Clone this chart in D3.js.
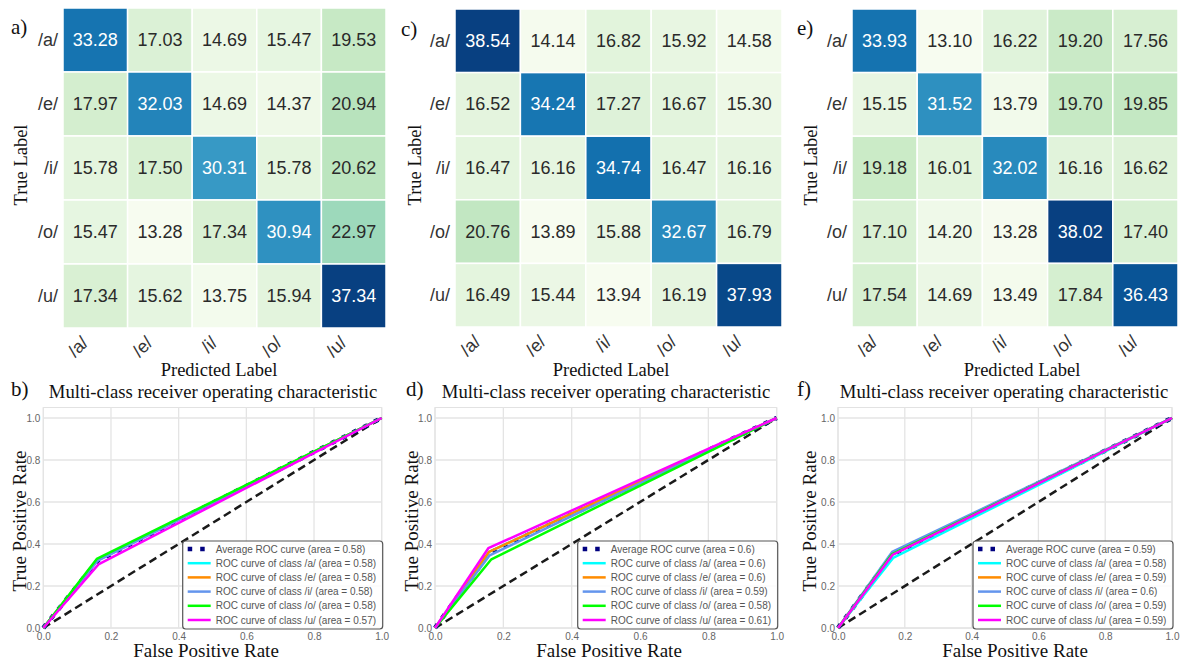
<!DOCTYPE html>
<html>
<head>
<meta charset="utf-8">
<script src="https://cdn.jsdelivr.net/npm/d3@7"></script>
<style>
  body { margin: 0; background: #fff; }
  svg { display: block; }
</style>
</head>
<body>
<div id="chart"></div>
<script>
const W = 1184
const H = 663

// vowel classes
const classes = ['/a/', '/e/', '/i/', '/o/', '/u/']

// confusion matrices (percent), rows = true label, cols = predicted
const matA = [
  [33.28, 17.03, 14.69, 15.47, 19.53],
  [17.97, 32.03, 14.69, 14.37, 20.94],
  [15.78, 17.50, 30.31, 15.78, 20.62],
  [15.47, 13.28, 17.34, 30.94, 22.97],
  [17.34, 15.62, 13.75, 15.94, 37.34]
]
const matC = [
  [38.54, 14.14, 16.82, 15.92, 14.58],
  [16.52, 34.24, 17.27, 16.67, 15.30],
  [16.47, 16.16, 34.74, 16.47, 16.16],
  [20.76, 13.89, 15.88, 32.67, 16.79],
  [16.49, 15.44, 13.94, 16.19, 37.93]
]
const matE = [
  [33.93, 13.10, 16.22, 19.20, 17.56],
  [15.15, 31.52, 13.79, 19.70, 19.85],
  [19.18, 16.01, 32.02, 16.16, 16.62],
  [17.10, 14.20, 13.28, 38.02, 17.40],
  [17.54, 14.69, 13.49, 17.84, 36.43]
]

// ROC curves: [fpr, tpr] points
const rocAvgB = [[0, 0], [0.16, 0.32], [1, 1]]
const rocB = [
  [[0, 0], [0.16, 0.322], [1, 1]],
  [[0, 0], [0.16, 0.324], [1, 1]],
  [[0, 0], [0.16, 0.32], [1, 1]],
  [[0, 0], [0.158, 0.329], [1, 1]],
  [[0, 0], [0.163, 0.303], [1, 1]]
]
const aucB = ['0.58', '0.58', '0.58', '0.58', '0.58', '0.57']

const rocAvgD = [[0, 0], [0.158, 0.356], [1, 1]]
const rocD = [
  [[0, 0], [0.158, 0.362], [1, 1]],
  [[0, 0], [0.158, 0.362], [1, 1]],
  [[0, 0], [0.16, 0.346], [1, 1]],
  [[0, 0], [0.165, 0.327], [1, 1]],
  [[0, 0], [0.156, 0.38], [1, 1]]
]
const aucD = ['0.6', '0.6', '0.6', '0.59', '0.58', '0.61']

const rocAvgF = [[0, 0], [0.163, 0.35], [1, 1]]
const rocF = [
  [[0, 0], [0.165, 0.334], [1, 1]],
  [[0, 0], [0.163, 0.35], [1, 1]],
  [[0, 0], [0.162, 0.362], [1, 1]],
  [[0, 0], [0.162, 0.352], [1, 1]],
  [[0, 0], [0.163, 0.348], [1, 1]]
]
const aucF = ['0.59', '0.58', '0.59', '0.6', '0.59', '0.59']

const rocTicks = [0, 0.2, 0.4, 0.6, 0.8, 1.0]
const classColors = ['#00ffff', '#ff8c00', '#6495ed', '#00ff00', '#ff00ff']

const serif = "'Liberation Serif', 'Times New Roman', serif"
const sans = "'Liberation Sans', Arial, sans-serif"

const svg = d3.select('#chart').append('svg')
  .attr('width', W).attr('height', H)

function lum (c) {
  const rgb = d3.rgb(c)
  const f = v => { v /= 255; return v <= 0.03928 ? v / 12.92 : Math.pow((v + 0.055) / 1.055, 2.4) }
  return 0.2126 * f(rgb.r) + 0.7152 * f(rgb.g) + 0.0722 * f(rgb.b)
}

function heatmap (mat, p) {
  const g = svg.append('g')
  const x = d3.scaleBand().domain(classes).range([p.x0, p.x1])
  const y = d3.scaleBand().domain(classes).range([p.y0, p.y1])
  const vals = mat.flat()
  const color = d3.scaleSequential(d3.interpolateGnBu).domain([d3.min(vals), d3.max(vals)])

  const cells = []
  mat.forEach((row, i) => row.forEach((v, j) => cells.push({ r: classes[i], c: classes[j], v })))

  g.selectAll('rect').data(cells).enter().append('rect')
    .attr('x', d => x(d.c)).attr('y', d => y(d.r))
    .attr('width', x.bandwidth()).attr('height', y.bandwidth())
    .attr('fill', d => color(d.v))
    .attr('stroke', '#fff').attr('stroke-width', 1.5)

  g.selectAll('text.val').data(cells).enter().append('text')
    .attr('class', 'val')
    .attr('x', d => x(d.c) + x.bandwidth() / 2)
    .attr('y', d => y(d.r) + y.bandwidth() / 2)
    .attr('text-anchor', 'middle').attr('dominant-baseline', 'central')
    .attr('font-family', sans).attr('font-size', 18)
    .attr('fill', d => lum(color(d.v)) > 0.408 ? '#2a2a2a' : '#ffffff')
    .text(d => d.v.toFixed(2))

  // row labels
  g.selectAll('text.rl').data(classes).enter().append('text')
    .attr('class', 'rl')
    .attr('x', p.x0 - 5).attr('y', d => y(d) + y.bandwidth() / 2)
    .attr('text-anchor', 'end').attr('dominant-baseline', 'central')
    .attr('font-family', sans).attr('font-size', 18).attr('fill', '#333')
    .text(d => d)

  // column labels, rotated 45 degrees
  g.selectAll('g.cl').data(classes).enter().append('g')
    .attr('class', 'cl')
    .attr('transform', d => `translate(${x(d) + x.bandwidth() / 2 - 6},${p.y1 + 16})`)
    .append('text')
    .attr('transform', 'rotate(-45)')
    .attr('text-anchor', 'end')
    .attr('font-family', sans).attr('font-size', 18).attr('fill', '#333')
    .text(d => d)

  g.append('text')
    .attr('x', p.letterX).attr('y', p.letterY)
    .attr('font-family', serif).attr('font-size', 21).attr('fill', '#111')
    .text(p.letter)

  g.append('text')
    .attr('transform', `translate(${p.ylabX},${(p.y0 + p.y1) / 2 - 3}) rotate(-90)`)
    .attr('text-anchor', 'middle').attr('dominant-baseline', 'central')
    .attr('font-family', serif).attr('font-size', 18.5).attr('fill', '#111')
    .text('True Label')

  g.append('text')
    .attr('x', p.xlabX).attr('y', 376)
    .attr('text-anchor', 'middle')
    .attr('font-family', serif).attr('font-size', 18.5).attr('fill', '#111')
    .text('Predicted Label')
}

function roc (avg, curves, auc, p) {
  const g = svg.append('g')
  const x = d3.scaleLinear().domain([0, 1]).range([p.x0, p.x1])
  const y = d3.scaleLinear().domain([0, 1.05]).range([628, 407.5])

  g.append('rect')
    .attr('x', p.x0).attr('y', y(1.05))
    .attr('width', p.x1 - p.x0).attr('height', y(0) - y(1.05))
    .attr('fill', '#fff').attr('stroke', '#e2e2e2').attr('stroke-width', 1)

  g.selectAll('line.gx').data(rocTicks).enter().append('line')
    .attr('x1', d => x(d)).attr('x2', d => x(d))
    .attr('y1', y(0)).attr('y2', y(1.05))
    .attr('stroke', '#e4e4e4').attr('stroke-width', 1.3)
  g.selectAll('line.gy').data(rocTicks).enter().append('line')
    .attr('y1', d => y(d)).attr('y2', d => y(d))
    .attr('x1', p.x0).attr('x2', p.x1)
    .attr('stroke', '#e4e4e4').attr('stroke-width', 1.3)

  const xAxis = g.append('g').attr('transform', `translate(0,${y(0)})`)
    .call(d3.axisBottom(x).tickValues(rocTicks).tickFormat(d3.format('.1f')).tickSize(0).tickPadding(5))
  const yAxis = g.append('g').attr('transform', `translate(${p.x0},0)`)
    .call(d3.axisLeft(y).tickValues(rocTicks).tickFormat(d3.format('.1f')).tickSize(0).tickPadding(3))
  ;[xAxis, yAxis].forEach(a => {
    a.select('.domain').remove()
    a.selectAll('text').attr('font-family', sans).attr('font-size', 10).attr('fill', '#666')
  })

  const line = d3.line().x(d => x(d[0])).y(d => y(d[1]))

  g.append('path').datum([[0, 0], [1, 1]])
    .attr('d', line).attr('fill', 'none')
    .attr('stroke', '#1a1a1a').attr('stroke-width', 2.5).attr('stroke-dasharray', '8,4.5')

  g.append('path').datum(avg)
    .attr('d', line).attr('fill', 'none')
    .attr('stroke', '#000080').attr('stroke-width', 4.5).attr('stroke-dasharray', '4.5,7.5')

  curves.forEach((c, i) => {
    g.append('path').datum(c)
      .attr('d', line).attr('fill', 'none')
      .attr('stroke', classColors[i]).attr('stroke-width', 2.5)
      .attr('stroke-linejoin', 'round')
  })

  // legend
  const lx = p.x1 - 199
  const ly = 541
  const lg = g.append('g')
  lg.append('rect')
    .attr('x', lx).attr('y', ly).attr('width', 200).attr('height', 88)
    .attr('rx', 3).attr('fill', 'rgba(255,255,255,0.85)')
    .attr('stroke', '#555').attr('stroke-width', 1.2)
  const labels = ['Average ROC curve (area = ' + auc[0] + ')']
    .concat(classes.map((c, i) => 'ROC curve of class ' + c + ' (area = ' + auc[i + 1] + ')'))
  labels.forEach((t, i) => {
    const ry = ly + 8 + i * 14.2
    const h = lg.append('line')
      .attr('x1', lx + 5).attr('x2', lx + 28).attr('y1', ry).attr('y2', ry)
    if (i === 0) {
      h.attr('stroke', '#000080').attr('stroke-width', 4.5).attr('stroke-dasharray', '4.5,8')
    } else {
      h.attr('stroke', classColors[i - 1]).attr('stroke-width', 2.5)
    }
    lg.append('text')
      .attr('x', lx + 33).attr('y', ry)
      .attr('dominant-baseline', 'central')
      .attr('font-family', sans).attr('font-size', 10).attr('fill', '#555')
      .text(t)
  })

  g.append('text')
    .attr('x', p.letterX).attr('y', 396)
    .attr('font-family', serif).attr('font-size', 21).attr('fill', '#111')
    .text(p.letter)

  g.append('text')
    .attr('x', p.titleX).attr('y', 398)
    .attr('text-anchor', 'middle')
    .attr('font-family', serif).attr('font-size', 18.7).attr('fill', '#111')
    .text('Multi-class receiver operating characteristic')

  g.append('text')
    .attr('transform', `translate(${p.ylabX},521) rotate(-90)`)
    .attr('text-anchor', 'middle').attr('dominant-baseline', 'central')
    .attr('font-family', serif).attr('font-size', 19).attr('fill', '#111')
    .text('True Positive Rate')

  g.append('text')
    .attr('x', p.xlabX).attr('y', 657)
    .attr('text-anchor', 'middle')
    .attr('font-family', serif).attr('font-size', 19).attr('fill', '#111')
    .text('False Positive Rate')
}

heatmap(matA, { x0: 63, x1: 386, y0: 8, y1: 328, letter: 'a)', letterX: 11, letterY: 34, ylabX: 21, xlabX: 219 })
heatmap(matC, { x0: 455, x1: 782, y0: 9, y1: 327, letter: 'c)', letterX: 401, letterY: 36, ylabX: 415, xlabX: 611 })
heatmap(matE, { x0: 852, x1: 1178, y0: 9, y1: 327, letter: 'e)', letterX: 797, letterY: 35, ylabX: 811, xlabX: 1022 })

roc(rocAvgB, rocB, aucB, { x0: 43.3, x1: 381.7, letter: 'b)', letterX: 11, titleX: 213, ylabX: 19, xlabX: 206 })
roc(rocAvgD, rocD, aucD, { x0: 435, x1: 776.7, letter: 'd)', letterX: 406, titleX: 606, ylabX: 411, xlabX: 609 })
roc(rocAvgF, rocF, aucF, { x0: 838, x1: 1172, letter: 'f)', letterX: 797, titleX: 1004, ylabX: 809, xlabX: 1015 })
</script>
</body>
</html>
